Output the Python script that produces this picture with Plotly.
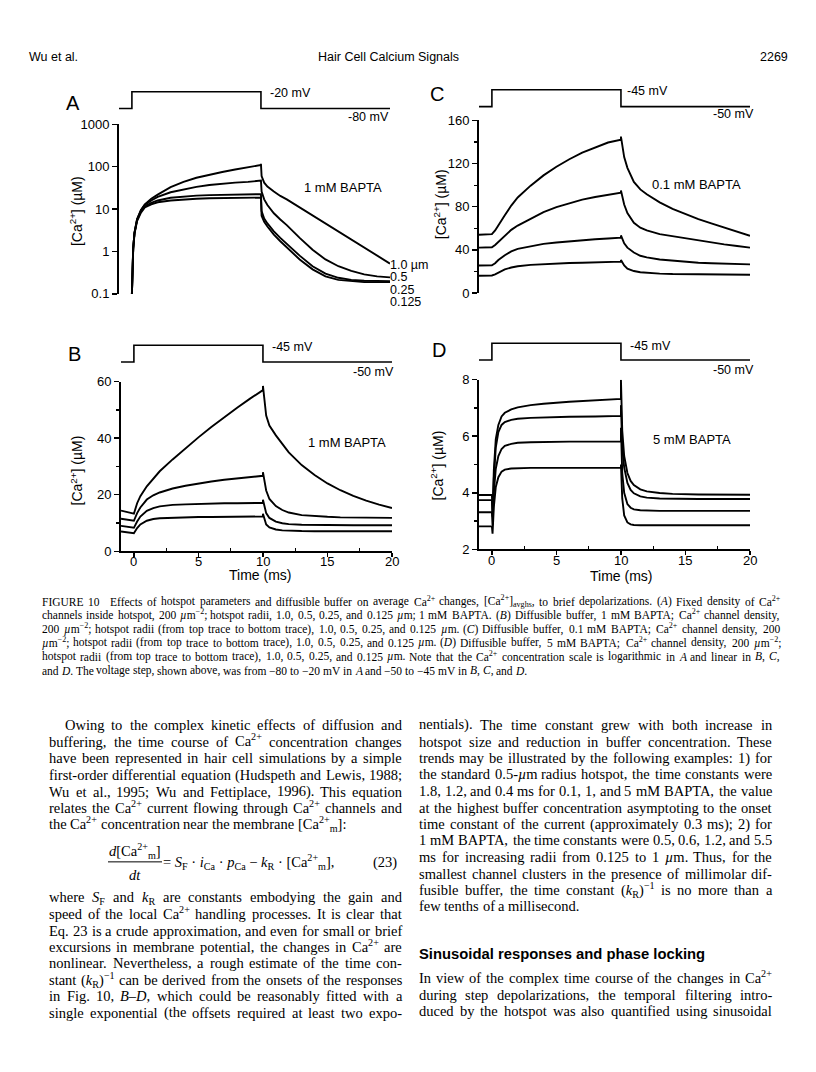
import re
import plotly.graph_objects as go

W, H = 816, 1072
SANS = "Liberation Sans, Arial, sans-serif"
SERIF = "Liberation Serif, Times New Roman, serif"

# ---------------- data ----------------
radius_labels = ["1.0 µm", "0.5", "0.25", "0.125"]

# voltage protocol
step_t = [-1, 0, 0, 10, 10, 20]
step_A = [-80, -80, -20, -20, -80, -80]
step_BCD = [-50, -50, -45, -45, -50, -50]

# Panel A: 1 mM BAPTA, log scale (µM)
tA = [0, 0.05, 0.1, 0.2, 0.4, 0.7, 1, 1.5, 2, 3, 4, 5, 6, 7, 8, 9, 10, 10,
      10.05, 10.25, 10.5, 11, 11.5, 12, 13, 14, 15, 16, 17, 18, 19, 20]
A_r1000 = [0.1, 0.5, 1.2, 2.8, 5.8, 9.5, 13, 17.5, 22, 33, 44, 55, 65, 75, 86, 98, 110, 118,
           60, 42, 34, 26, 20.5, 17, 11, 7, 4.5, 2.9, 1.85, 1.2, 0.8, 0.52]
A_r500 = [0.1, 0.5, 1.2, 2.8, 5.8, 9.3, 12.5, 16, 19.5, 25, 29.5, 33.5, 37, 40, 42.3, 44, 45.5, 47,
          26, 17, 12.5, 8, 5.7, 4.2, 2.1, 1.1, 0.65, 0.45, 0.35, 0.29, 0.26, 0.245]
A_r250 = [0.1, 0.5, 1.2, 2.7, 5.5, 8.8, 11.5, 14, 16, 18.5, 20, 20.8, 21.4, 21.8, 22, 22.2, 22.3, 22.5,
          9, 6, 4.6, 3.0, 2.1, 1.5, 0.8, 0.45, 0.3, 0.24, 0.215, 0.205, 0.2, 0.2]
A_r125 = [0.1, 0.5, 1.1, 2.6, 5.2, 8.3, 11, 13, 14.5, 16, 17, 17.6, 18, 18.3, 18.5, 18.6, 18.7, 18.7,
          7, 5, 3.9, 2.5, 1.75, 1.25, 0.65, 0.38, 0.26, 0.215, 0.2, 0.19, 0.19, 0.19]

# Panels B and C share a time grid
tBC = [-1, 0, 0.25, 0.5, 1, 1.5, 2, 3, 4, 5, 6, 7, 8, 9, 10, 10,
       10.25, 10.5, 11, 11.5, 12, 13, 14, 15, 16, 17, 18, 19, 20]
# Panel B: 1 mM BAPTA (µM)
B_r1000 = [14.4, 13.3, 17, 19.5, 23, 25.8, 28.3, 32.5, 36.5, 40.3, 44, 47.5, 50.8, 54, 57, 58.5,
           48, 44.5, 41, 38, 35, 30.5, 27, 24, 21.6, 19.6, 17.9, 16.5, 15.3]
B_r500 = [11.5, 10.8, 13.5, 15.5, 18.3, 19.8, 20.8, 22.2, 23.2, 24, 24.7, 25.3, 25.8, 26.3, 26.7, 28,
          21.5, 18.5, 16, 14.6, 13.7, 12.8, 12.4, 12.2, 12.0, 11.9, 11.85, 11.8, 11.8]
B_r250 = [9.0, 8.3, 10.5, 12.3, 14.3, 15.3, 15.9, 16.4, 16.6, 16.8, 16.9, 17.0, 17.0, 17.1, 17.1, 18.2,
          13.5, 11.8, 10.5, 9.9, 9.6, 9.4, 9.3, 9.25, 9.2, 9.2, 9.2, 9.2, 9.2]
B_r125 = [7.0, 6.4, 8.2, 9.5, 10.8, 11.4, 11.7, 11.9, 12.0, 12.1, 12.15, 12.2, 12.2, 12.25, 12.3, 13.3,
          9.5, 8.4, 7.7, 7.4, 7.25, 7.15, 7.1, 7.1, 7.1, 7.1, 7.1, 7.1, 7.1]
# Panel C: 0.1 mM BAPTA (µM)
C_r1000 = [54, 54.5, 58, 63, 72, 81, 88.5, 99.5, 109, 117, 124, 130, 135, 139.5, 142, 145,
           126, 116, 103, 96, 91.5, 84, 78, 73, 68.5, 64.5, 60.5, 56.5, 53]
C_r500 = [42, 42.3, 44.5, 47.5, 53, 58.5, 62.5, 69, 75, 79.5, 83, 86.5, 89, 91.2, 93, 95,
          82, 74, 65, 60.5, 58, 54.5, 52.5, 50.5, 48.5, 46.5, 45, 43.5, 42]
C_r250 = [25.5, 25.7, 27.5, 30.5, 35, 38.5, 40.8, 43.5, 45.5, 46.8, 48, 49, 49.8, 50.5, 51.2, 53.3,
          46, 42, 37.5, 34.5, 33, 31, 29.8, 28.8, 28, 27.5, 27.1, 26.8, 26.5]
C_r125 = [16, 16.2, 17.2, 19, 21.8, 23.6, 24.8, 26, 26.8, 27.3, 27.7, 28, 28.3, 28.6, 29, 30.5,
          25.5, 22.5, 20.3, 19.2, 18.6, 17.9, 17.5, 17.3, 17.1, 17, 16.9, 16.85, 16.8]

# Panel D: 5 mM BAPTA (µM)
tD = [-1, 0, 0.05, 0.15, 0.3, 0.5, 0.75, 1, 1.5, 2, 3, 4, 6, 8, 10, 10,
      10.1, 10.25, 10.5, 10.75, 11, 11.5, 12, 13, 14, 16, 20]
D_r1000 = [3.92, 3.92, 3.3, 4.8, 5.9, 6.4, 6.7, 6.83, 6.95, 7.02, 7.1, 7.15, 7.22, 7.27, 7.32, 8.0,
           6.2, 5.3, 4.7, 4.42, 4.27, 4.12, 4.05, 3.99, 3.96, 3.94, 3.93]
D_r500 = [3.74, 3.74, 3.15, 4.5, 5.6, 6.15, 6.4, 6.5, 6.58, 6.62, 6.65, 6.67, 6.69, 6.7, 6.72, 7.1,
          5.6, 4.9, 4.35, 4.1, 3.98, 3.87, 3.83, 3.8, 3.79, 3.78, 3.78]
D_r250 = [3.31, 3.31, 2.85, 4.0, 4.85, 5.3, 5.55, 5.66, 5.73, 5.77, 5.79, 5.8, 5.81, 5.81, 5.82, 6.3,
          4.7, 4.0, 3.6, 3.47, 3.41, 3.38, 3.37, 3.36, 3.36, 3.36, 3.36]
D_r125 = [2.81, 2.81, 2.55, 3.5, 4.2, 4.55, 4.75, 4.82, 4.86, 4.87, 4.88, 4.88, 4.88, 4.88, 4.88, 5.0,
          3.8, 3.2, 2.95, 2.88, 2.86, 2.85, 2.85, 2.85, 2.85, 2.85, 2.85]

x_ticks = [0, 5, 10, 15, 20]
A_ticks = [0.1, 1, 10, 100, 1000]
A_ticktext = ["0.1", "1", "10", "100", "1000"]

# ---------------- helpers ----------------
def fx(p):
    return p / W

def fy(p):
    return 1 - p / H

def ann(x, y, text, size=13, xanchor="left", family=SANS, **kw):
    return dict(x=fx(x), y=fy(y), xref="paper", yref="paper", text=text, showarrow=False,
                xanchor=xanchor, yanchor="middle",
                font=dict(size=size, family=family, color="black"), **kw)

# Times-style advance widths (1/1000 em) used to justify text lines
_REG = dict(zip("ABCDEFGHIJKLMNOPQRSTUVWXYZ",
                [722, 667, 667, 722, 611, 556, 722, 722, 333, 389, 722, 611, 889, 722, 722, 556,
                 722, 667, 556, 611, 722, 722, 944, 722, 722, 611]))
_REG.update(zip("abcdefghijklmnopqrstuvwxyz",
                [444, 500, 444, 500, 444, 333, 500, 500, 278, 278, 500, 278, 778, 500, 500, 500,
                 500, 333, 389, 278, 500, 500, 722, 500, 500, 444]))
_REG.update({c: 500 for c in "0123456789"})
_REG.update({" ": 250, "\u00a0": 250, ",": 250, ".": 250, ";": 278, ":": 278, "(": 333,
             ")": 333, "[": 333, "]": 333, "-": 333, "+": 564, "=": 564, "−": 564, "–": 500,
             "·": 250, "µ": 500, "'": 333, "/": 278})
_ITA = dict(_REG)
_ITA.update(zip("ABCDEFGHIJKLMNOPQRSTUVWXYZ",
                [611, 611, 667, 722, 611, 611, 722, 722, 333, 444, 667, 556, 833, 667, 722, 611,
                 722, 611, 500, 556, 722, 611, 833, 611, 556, 556]))
_ITA.update(zip("abcdefghijklmnopqrstuvwxyz",
                [500, 500, 444, 500, 444, 278, 500, 500, 278, 278, 444, 278, 722, 500, 500, 500,
                 500, 389, 389, 278, 500, 444, 667, 444, 444, 389]))

def word_width(word, size):
    total, scale, italic = 0.0, 1.0, False
    for tok in re.split(r"(<[^>]+>)", word):
        if tok.startswith("<"):
            t = tok.lower()
            if t in ("<sup>", "<sub>"):
                scale = 0.7
            elif t in ("</sup>", "</sub>"):
                scale = 1.0
            elif t == "<i>":
                italic = True
            elif t == "</i>":
                italic = False
            continue
        table = _ITA if italic else _REG
        for ch in tok:
            total += table.get(ch, 500) * scale
    return total * size / 1000.0

def baseline_fix(word, size):
    # keep baselines level when a word's box grows from a superscript / subscript
    d = 0.0
    if "<sup>" in word:
        d -= 0.077 * size
    if "<sub>" in word:
        d += 0.041 * size
    return d

def text_line(x0, x1, y, text, size, justify):
    words = text.split(" ")
    widths = [word_width(w, size) for w in words]
    if justify and len(words) > 1:
        gap = (x1 - x0 - sum(widths)) / (len(words) - 1)
    else:
        gap = 0.25 * size
    out = []
    x = x0
    for w, wd in zip(words, widths):
        out.append(ann(x, y + baseline_fix(w, size), w, size, family=SERIF))
        x += wd + gap
    return out

fig = go.Figure()
LW = 1.9

def curve(t, v, xa, ya):
    fig.add_trace(go.Scatter(x=t, y=v, xaxis=xa, yaxis=ya, mode="lines",
                             line=dict(color="black", width=LW), showlegend=False,
                             hoverinfo="skip"))

for v in (A_r1000, A_r500, A_r250, A_r125):
    curve(tA, v, "x", "y")
for v in (B_r1000, B_r500, B_r250, B_r125):
    curve(tBC, v, "x2", "y2")
for v in (C_r1000, C_r500, C_r250, C_r125):
    curve(tBC, v, "x3", "y3")
for v in (D_r1000, D_r500, D_r250, D_r125):
    curve(tD, v, "x4", "y4")

# voltage steps
for xa, ya, v in (("x", "y5", step_A), ("x2", "y6", step_BCD),
                  ("x3", "y7", step_BCD), ("x4", "y8", step_BCD)):
    fig.add_trace(go.Scatter(x=step_t, y=v, xaxis=xa, yaxis=ya, mode="lines",
                             line=dict(color="black", width=1.6), showlegend=False,
                             hoverinfo="skip"))

tickfont = dict(size=13, family=SANS, color="black")
common_y = dict(showline=True, linecolor="black", linewidth=2, ticks="outside", ticklen=5,
                tickwidth=1.5, tickcolor="black", showgrid=False, zeroline=False,
                tickfont=tickfont, fixedrange=True)
common_x = dict(showline=True, linecolor="black", linewidth=2, ticks="outside", ticklen=4,
                tickwidth=1.5, tickcolor="black", showgrid=False, zeroline=False,
                showticklabels=False, tickvals=x_ticks, range=[-1, 20],
                minor=dict(tickvals=[2.5, 7.5, 12.5, 17.5], ticks="inside", ticklen=3,
                           tickwidth=1.2, tickcolor="black"), fixedrange=True)
hidden_x = dict(visible=False, range=[-1, 20], fixedrange=True)

def vrange(low, high, low_px, high_px, d0, d1):
    per = (high - low) / (low_px - high_px)
    return [low - (d1 - low_px) * per, high + (high_px - d0) * per]

layout = dict(
    width=W, height=H, autosize=False, margin=dict(l=0, r=0, t=0, b=0),
    paper_bgcolor="white", plot_bgcolor="rgba(0,0,0,0)",
    xaxis=dict(hidden_x, domain=[fx(119), fx(390)], anchor="y"),
    yaxis=dict(common_y, domain=[fy(291), fy(119)], anchor="x", type="log", range=[-1, 3],
               tickvals=A_ticks, ticktext=A_ticktext),
    xaxis2=dict(common_x, domain=[fx(121), fx(392)], anchor="y2"),
    yaxis2=dict(common_y, domain=[fy(552), fy(380)], anchor="x2", range=[0, 60],
                tickvals=[0, 20, 40, 60],
                minor=dict(tickvals=[10, 30, 50], ticks="outside", ticklen=3, tickwidth=1.2,
                           tickcolor="black")),
    xaxis3=dict(hidden_x, domain=[fx(479), fx(750)], anchor="y3"),
    yaxis3=dict(common_y, domain=[fy(290), fy(115)], anchor="x3", range=[0, 160],
                tickvals=[0, 40, 80, 120, 160],
                minor=dict(tickvals=[20, 60, 100, 140], ticks="outside", ticklen=3,
                           tickwidth=1.2, tickcolor="black")),
    xaxis4=dict(common_x, domain=[fx(479), fx(750)], anchor="y4"),
    yaxis4=dict(common_y, domain=[fy(550), fy(378)], anchor="x4", range=[2, 8],
                tickvals=[2, 4, 6, 8],
                minor=dict(tickvals=[3, 5, 7], ticks="outside", ticklen=3, tickwidth=1.2,
                           tickcolor="black")),
    yaxis5=dict(visible=False, anchor="x", domain=[fy(105), fy(84)],
                range=vrange(-80, -20, 103, 86, 84, 105), fixedrange=True),
    yaxis6=dict(visible=False, anchor="x2", domain=[fy(362), fy(341)],
                range=vrange(-50, -45, 360, 343, 341, 362), fixedrange=True),
    yaxis7=dict(visible=False, anchor="x3", domain=[fy(103), fy(82)],
                range=vrange(-50, -45, 101, 84, 82, 103), fixedrange=True),
    yaxis8=dict(visible=False, anchor="x4", domain=[fy(360), fy(339)],
                range=vrange(-50, -45, 358, 341, 339, 360), fixedrange=True),
)
fig.update_layout(**layout)

ca_title = "[Ca<sup>2+</sup>] (µM)"
anns = [
    # header
    ann(27, 51, "Wu et al.", 12.5),
    ann(388, 51, "Hair Cell Calcium Signals", 12.5, xanchor="center"),
    ann(790, 51, "2269", 12.5, xanchor="right"),
    # panel letters
    ann(64, 97, "A", 20), ann(66, 352, "B", 20), ann(428, 88, "C", 20), ann(430, 348, "D", 20),
    # voltage labels
    ann(268, 87, "-20 mV", 12.5), ann(391, 112, "-80 mV", 12.5, xanchor="right"),
    ann(270, 345, "-45 mV", 12.5), ann(396, 370, "-50 mV", 12.5, xanchor="right"),
    ann(625, 85, "-45 mV", 12.5), ann(756, 109, "-50 mV", 12.5, xanchor="right"),
    ann(628, 344, "-45 mV", 12.5), ann(756, 368, "-50 mV", 12.5, xanchor="right"),
    # buffer labels
    ann(302, 183, "1 mM BAPTA", 13), ann(306, 442, "1 mM BAPTA", 13),
    ann(650, 180, "0.1 mM BAPTA", 13), ann(651, 439, "5 mM BAPTA", 13),
    # y titles
    ann(76, 207, ca_title, 14, xanchor="center", textangle=-90),
    ann(77, 470, ca_title, 14, xanchor="center", textangle=-90),
    ann(440, 200, ca_title, 14, xanchor="center", textangle=-90),
    ann(438, 465, ca_title, 14, xanchor="center", textangle=-90),
    # x titles
    ann(260, 576, "Time (ms)", 14, xanchor="center"),
    ann(621, 577, "Time (ms)", 14, xanchor="center"),
]
# x tick labels placed on the data scale of panels B and D
for xa, yy in (("x2", 562), ("x4", 561)):
    for tv in x_ticks:
        anns.append(dict(x=tv, xref=xa, y=fy(yy), yref="paper", text=str(tv), showarrow=False,
                         xanchor="center", yanchor="middle", font=tickfont))
for lab, yy in zip(radius_labels, [262, 274, 287, 299]):
    anns.append(ann(388, yy, lab, 12.5))

caption = [
    "FIGURE 10\u00a0\u00a0 Effects of hotspot parameters and diffusible buffer on average Ca<sup>2+</sup> changes, [Ca<sup>2+</sup>]<sub>avghs</sub>, to brief depolarizations. (<i>A</i>) Fixed density of Ca<sup>2+</sup>",
    "channels inside hotspot, 200 <i>µ</i>m<sup>−2</sup>; hotspot radii, 1.0, 0.5, 0.25, and 0.125 <i>µ</i>m; 1 mM BAPTA. (<i>B</i>) Diffusible buffer, 1 mM BAPTA; Ca<sup>2+</sup> channel density,",
    "200 <i>µ</i>m<sup>−2</sup>; hotspot radii (from top trace to bottom trace), 1.0, 0.5, 0.25, and 0.125 <i>µ</i>m. (<i>C</i>) Diffusible buffer, 0.1 mM BAPTA; Ca<sup>2+</sup> channel density, 200",
    "<i>µ</i>m<sup>−2</sup>; hotspot radii (from top trace to bottom trace), 1.0, 0.5, 0.25, and 0.125 <i>µ</i>m. (<i>D</i>) Diffusible buffer, 5 mM BAPTA; Ca<sup>2+</sup> channel density, 200 <i>µ</i>m<sup>−2</sup>;",
    "hotspot radii (from top trace to bottom trace), 1.0, 0.5, 0.25, and 0.125 <i>µ</i>m. Note that the Ca<sup>2+</sup> concentration scale is logarithmic in <i>A</i> and linear in <i>B</i>, <i>C</i>,",
    "and <i>D</i>. The voltage step, shown above, was from −80 to −20 mV in <i>A</i> and −50 to −45 mV in <i>B</i>, <i>C</i>, and <i>D</i>.",
]
for i, line in enumerate(caption):
    anns += text_line(40, 778, 603 + 14 * i, line, 11.5, justify=(i < len(caption) - 1))

# (x0, y, text, justified)
left_col = [
    (63, 728, "Owing to the complex kinetic effects of diffusion and", True),
    (47, 745, "buffering, the time course of Ca<sup>2+</sup> concentration changes", True),
    (47, 762, "have been represented in hair cell simulations by a simple", True),
    (47, 779, "first-order differential equation (Hudspeth and Lewis, 1988;", True),
    (47, 796, "Wu et al., 1995; Wu and Fettiplace, 1996). This equation", True),
    (47, 812, "relates the Ca<sup>2+</sup> current flowing through Ca<sup>2+</sup> channels and", True),
    (47, 829, "the Ca<sup>2+</sup> concentration near the membrane [Ca<sup>2+</sup><sub>m</sub>]:", False),
    (47, 903, "where <i>S</i><sub>F</sub> and <i>k</i><sub>R</sub> are constants embodying the gain and", True),
    (47, 920, "speed of the local Ca<sup>2+</sup> handling processes. It is clear that", True),
    (47, 937, "Eq. 23 is a crude approximation, and even for small or brief", True),
    (47, 953, "excursions in membrane potential, the changes in Ca<sup>2+</sup> are", True),
    (47, 970, "nonlinear. Nevertheless, a rough estimate of the time con-", True),
    (47, 987, "stant (<i>k</i><sub>R</sub>)<sup>−1</sup> can be derived from the onsets of the responses", True),
    (47, 1003, "in Fig. 10, <i>B–D</i>, which could be reasonably fitted with a", True),
    (47, 1020, "single exponential (the offsets required at least two expo-", True),
]
right_col = [
    (417, 728, "nentials). The time constant grew with both increase in", True),
    (417, 745, "hotspot size and reduction in buffer concentration. These", True),
    (417, 762, "trends may be illustrated by the following examples: 1) for", True),
    (417, 778, "the standard 0.5-<i>µ</i>m radius hotspot, the time constants were", True),
    (417, 795, "1.8, 1.2, and 0.4 ms for 0.1, 1, and 5 mM BAPTA, the value", True),
    (417, 812, "at the highest buffer concentration asymptoting to the onset", True),
    (417, 829, "time constant of the current (approximately 0.3 ms); 2) for", True),
    (417, 845, "1 mM BAPTA, the time constants were 0.5, 0.6, 1.2, and 5.5", True),
    (417, 862, "ms for increasing radii from 0.125 to 1 <i>µ</i>m. Thus, for the", True),
    (417, 879, "smallest channel clusters in the presence of millimolar dif-", True),
    (417, 896, "fusible buffer, the time constant (<i>k</i><sub>R</sub>)<sup>−1</sup> is no more than a", True),
    (417, 912, "few tenths of a millisecond.", False),
    (417, 985, "In view of the complex time course of the changes in Ca<sup>2+</sup>", True),
    (417, 1002, "during step depolarizations, the temporal filtering intro-", True),
    (417, 1018, "duced by the hotspot was also quantified using sinusoidal", True),
]
for x0, y, s, just in left_col:
    anns += text_line(x0, 400, y, s, 14.5, just)
for x0, y, s, just in right_col:
    anns += text_line(x0, 770, y, s, 14.5, just)
anns.append(ann(417, 960, "<b>Sinusoidal responses and phase locking</b>", 14.8))

# equation 23
anns += [
    ann(135, 856 + baseline_fix("<sup><sub>", 14.5), "<i>d</i>[Ca<sup>2+</sup><sub>m</sub>]", 14.5,
        xanchor="center", family=SERIF),
    ann(135, 880, "<i>dt</i>", 14.5, xanchor="center", family=SERIF),
    ann(161, 868 + baseline_fix("<sup><sub>", 14.5),
        "= <i>S</i><sub>F</sub> · <i>i</i><sub>Ca</sub> · <i>p</i><sub>Ca</sub> − <i>k</i><sub>R</sub> · [Ca<sup>2+</sup><sub>m</sub>],",
        14.5, family=SERIF),
    ann(399, 868, "(23)", 14.5, xanchor="right", family=SERIF),
]
fig.update_layout(annotations=anns)
fig.add_shape(type="line", xref="paper", yref="paper", x0=fx(108), x1=fx(162),
              y0=fy(867), y1=fy(867), line=dict(color="black", width=1))

fig.write_html("out.html", config={"displayModeBar": False, "staticPlot": True},
               post_script="document.body.style.margin='0';")
